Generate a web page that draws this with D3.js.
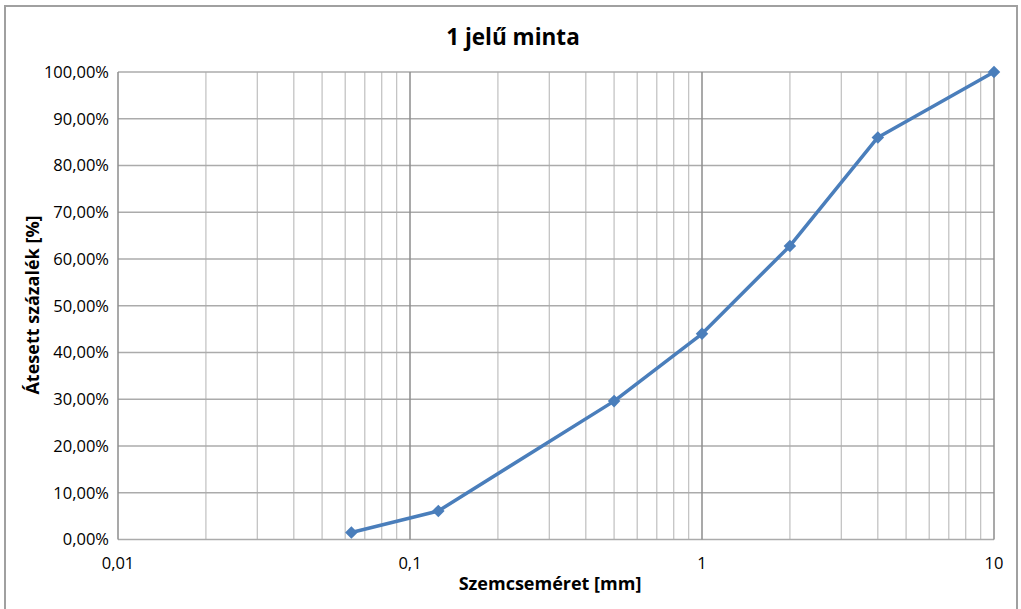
<!DOCTYPE html>
<html>
<head>
<meta charset="utf-8">
<script src="https://cdn.jsdelivr.net/npm/d3@7"></script>
<style>
  body { margin: 0; background: #fff; }
  text { font-family: "Open Sans", sans-serif; fill: #000; }
</style>
</head>
<body>
<svg></svg>
<script>
const WIDTH = 1021, HEIGHT = 609;
const PLOT = { left: 118, right: 994, top: 72, bottom: 539.5 };

// sieve sizes [mm] and passing percentages
const sizes = [0.063, 0.125, 0.5, 1, 2, 4, 10];
const passing = [1.5, 6.1, 29.6, 44.0, 62.8, 86.0, 100.0];
const xTicks = [0.01, 0.1, 1, 10];
const yTicks = [0, 10, 20, 30, 40, 50, 60, 70, 80, 90, 100];

const svg = d3.select("svg").attr("width", WIDTH).attr("height", HEIGHT);

// outer chart frame
svg.append("rect")
    .attr("x", 5).attr("y", 6)
    .attr("width", 1012).attr("height", 620)
    .attr("fill", "none").attr("stroke", "#a0a0a0").attr("stroke-width", 2);

const x = d3.scaleLog().domain([0.01, 10]).range([PLOT.left, PLOT.right]);
const y = d3.scaleLinear().domain([0, 100]).range([PLOT.bottom, PLOT.top]);

// minor vertical gridlines (2..9 per decade)
var minor = [];
[0.01, 0.1, 1].forEach(function(d) { for (var k = 2; k <= 9; ++k) minor.push(d * k); });
svg.append("g").selectAll("line").data(minor).enter().append("line")
    .attr("x1", d => x(d)).attr("x2", d => x(d))
    .attr("y1", PLOT.top).attr("y2", PLOT.bottom)
    .attr("stroke", "#c4c4c4").attr("stroke-width", 1.3);

// horizontal gridlines
svg.append("g").selectAll("line").data(yTicks).enter().append("line")
    .attr("x1", PLOT.left).attr("x2", PLOT.right)
    .attr("y1", d => y(d)).attr("y2", d => y(d))
    .attr("stroke", "#ababab").attr("stroke-width", 1.5);

// major vertical gridlines
svg.append("g").selectAll("line").data(xTicks).enter().append("line")
    .attr("x1", d => x(d)).attr("x2", d => x(d))
    .attr("y1", PLOT.top).attr("y2", PLOT.bottom)
    .attr("stroke", "#8c8c8c").attr("stroke-width", 1.5);

// y tick labels
svg.append("g").selectAll("text").data(yTicks).enter().append("text")
    .attr("x", 109).attr("y", d => y(d))
    .attr("dy", "0.35em")
    .attr("text-anchor", "end")
    .style("font-size", "16.5px")
    .text(d => d.toFixed(2).replace(".", ",") + "%");

// x tick labels
svg.append("g").selectAll("text").data(xTicks).enter().append("text")
    .attr("x", d => x(d)).attr("y", 569)
    .attr("text-anchor", "middle")
    .style("font-size", "16.5px")
    .text(d => String(d).replace(".", ","));

// title and axis titles
svg.append("text")
    .attr("x", 513).attr("y", 45)
    .attr("text-anchor", "middle")
    .style("font-size", "22.5px").style("font-weight", "bold")
    .text("1 jelű minta");

svg.append("text")
    .attr("x", 550).attr("y", 590)
    .attr("text-anchor", "middle")
    .style("font-size", "18px").style("font-weight", "bold")
    .text("Szemcseméret [mm]");

svg.append("text")
    .attr("transform", "translate(39,305) rotate(-90)")
    .attr("text-anchor", "middle")
    .style("font-size", "18px").style("font-weight", "bold")
    .text("Átesett százalék [%]");

// series
const pts = sizes.map((s, i) => [s, passing[i]]);
svg.append("path")
    .datum(pts)
    .attr("fill", "none")
    .attr("stroke", "#4a7ebb")
    .attr("stroke-width", 3.5)
    .attr("stroke-linejoin", "round")
    .attr("d", d3.line().x(d => x(d[0])).y(d => y(d[1])));

svg.append("g").selectAll("path").data(pts).enter().append("path")
    .attr("transform", d => "translate(" + x(d[0]) + "," + y(d[1]) + ")")
    .attr("d", d3.symbol().type(d3.symbolDiamond2).size(100))
    .attr("fill", "#4a7ebb");
</script>
</body>
</html>
